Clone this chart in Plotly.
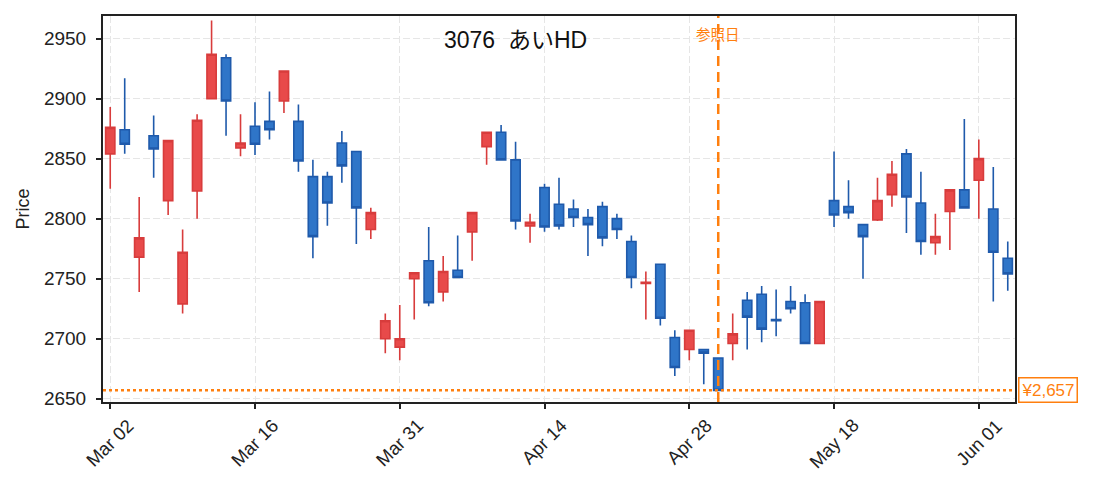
import plotly.graph_objects as go

# trading days (Tokyo), 2020-03-02 .. 2020-06-03
dates = [
    "2020-03-02", "2020-03-03", "2020-03-04", "2020-03-05", "2020-03-06",
    "2020-03-09", "2020-03-10", "2020-03-11", "2020-03-12", "2020-03-13",
    "2020-03-16", "2020-03-17", "2020-03-18", "2020-03-19", "2020-03-23",
    "2020-03-24", "2020-03-25", "2020-03-26", "2020-03-27", "2020-03-30",
    "2020-03-31", "2020-04-01", "2020-04-02", "2020-04-03", "2020-04-06",
    "2020-04-07", "2020-04-08", "2020-04-09", "2020-04-10", "2020-04-13",
    "2020-04-14", "2020-04-15", "2020-04-16", "2020-04-17", "2020-04-20",
    "2020-04-21", "2020-04-22", "2020-04-23", "2020-04-24", "2020-04-27",
    "2020-04-28", "2020-04-30", "2020-05-01", "2020-05-07", "2020-05-08",
    "2020-05-11", "2020-05-12", "2020-05-13", "2020-05-14", "2020-05-15",
    "2020-05-18", "2020-05-19", "2020-05-20", "2020-05-21", "2020-05-22",
    "2020-05-25", "2020-05-26", "2020-05-27", "2020-05-28", "2020-05-29",
    "2020-06-01", "2020-06-02", "2020-06-03",
]
opens = [2854, 2874, 2768, 2869, 2815, 2729, 2823, 2900, 2934, 2859,
         2877, 2881, 2898, 2881, 2835, 2835, 2863, 2856, 2791, 2700,
         2693, 2750, 2765, 2739, 2757, 2789, 2860, 2872, 2849, 2794,
         2826, 2812, 2808, 2801, 2810, 2800, 2781, 2746, 2762, 2701,
         2691, 2691, 2684, 2696, 2732, 2737, 2716, 2731, 2730, 2696,
         2815, 2810, 2795, 2799, 2820, 2854, 2813, 2780, 2806, 2824,
         2832, 2808, 2767]
highs = [2893, 2917, 2818, 2886, 2865, 2791, 2887, 2965, 2937, 2887,
         2897, 2906, 2923, 2895, 2849, 2839, 2873, 2856, 2809, 2721,
         2728, 2755, 2793, 2769, 2786, 2805, 2872, 2878, 2864, 2804,
         2829, 2834, 2816, 2808, 2814, 2804, 2786, 2756, 2762, 2707,
         2707, 2691, 2684, 2721, 2739, 2744, 2741, 2744, 2737, 2731,
         2856, 2832, 2795, 2834, 2848, 2858, 2839, 2804, 2824, 2883,
         2866, 2843, 2781]
lows = [2825, 2854, 2739, 2834, 2803, 2721, 2800, 2900, 2869, 2852,
        2853, 2866, 2888, 2839, 2767, 2794, 2830, 2779, 2783, 2688,
        2682, 2716, 2727, 2731, 2751, 2765, 2845, 2849, 2791, 2780,
        2789, 2791, 2793, 2769, 2777, 2783, 2742, 2716, 2711, 2669,
        2682, 2662, 2657, 2682, 2691, 2697, 2702, 2721, 2696, 2696,
        2793, 2800, 2750, 2798, 2810, 2788, 2770, 2770, 2774, 2809,
        2800, 2731, 2740]
closes = [2876, 2862, 2784, 2858, 2865, 2772, 2882, 2937, 2898, 2863,
          2862, 2874, 2923, 2848, 2785, 2813, 2844, 2809, 2805, 2715,
          2700, 2755, 2730, 2756, 2751, 2805, 2872, 2849, 2798, 2797,
          2793, 2794, 2801, 2795, 2784, 2791, 2751, 2747, 2717, 2676,
          2707, 2688, 2657, 2704, 2718, 2708, 2715, 2725, 2696, 2731,
          2803, 2805, 2785, 2815, 2837, 2818, 2781, 2785, 2824, 2809,
          2850, 2772, 2754]

code = "3076"
name = "あいHD"
ref_date = "2020-05-01"
ref_price = 2657
y_ticks = [2650, 2700, 2750, 2800, 2850, 2900, 2950]

tick_vals = dates[::10]
month_abbr = ["Jan", "Feb", "Mar", "Apr", "May", "Jun", "Jul", "Aug", "Sep", "Oct", "Nov", "Dec"]
tick_text = [month_abbr[int(d[5:7]) - 1] + " " + d[8:10] for d in tick_vals]

orange = "#ff7f0e"
ink = "#222222"
grid = "#e6e6e6"
font = "Liberation Sans, Noto Sans CJK JP, sans-serif"

fig = go.Figure()
fig.add_trace(go.Candlestick(
    x=dates, open=opens, high=highs, low=lows, close=closes,
    increasing=dict(line=dict(color="#d83c3c", width=1.6), fillcolor="#e84a4a"),
    decreasing=dict(line=dict(color="#1f5aab", width=1.6), fillcolor="#2f75c8"),
    whiskerwidth=0,
    showlegend=False,
))

# reference date / price markers
fig.add_shape(type="line", xref="x", yref="paper", x0=ref_date, x1=ref_date, y0=0, y1=1,
              line=dict(color=orange, width=2.5, dash="10px,6px"))
fig.add_shape(type="line", xref="paper", yref="y", x0=0, x1=1, y0=ref_price, y1=ref_price,
              line=dict(color=orange, width=2.5, dash="3px,3px"))
fig.add_annotation(x=ref_date, y=0.95, xref="x", yref="paper", text="参照日",
                   showarrow=False, font=dict(color=orange, size=14.5, family=font),
                   xanchor="center", yanchor="middle")
fig.add_annotation(x=1.003, y=ref_price, xref="paper", yref="y", text="¥{:,}".format(ref_price),
                   showarrow=False, font=dict(color=orange, size=17, family=font),
                   xanchor="left", yanchor="middle", bgcolor="white",
                   bordercolor=orange, borderwidth=1.5, borderpad=2)
fig.add_annotation(x=0.452, y=0.937, xref="paper", yref="paper",
                   text=code + " \u00a0" + name,
                   showarrow=False, font=dict(color="#111111", size=23, family=font),
                   xanchor="center", yanchor="middle")

# rotated date labels centred under their ticks
for d, t in zip(tick_vals, tick_text):
    fig.add_annotation(x=d, y=0, xref="x", yref="paper", text=t, textangle=-45,
                       showarrow=False, xanchor="center", yanchor="top", yshift=-10,
                       font=dict(color=ink, size=18.5, family=font))

fig.update_layout(
    width=1093, height=491,
    margin=dict(l=95, r=86, t=6, b=97),
    plot_bgcolor="white", paper_bgcolor="white",
    font=dict(family=font, size=18, color=ink),
    boxgap=0.2, boxgroupgap=0.2,
    xaxis=dict(
        type="category", rangeslider=dict(visible=False),
        range=[-0.5, len(dates) - 0.5],
        tickmode="array", tickvals=tick_vals, showticklabels=False,
        showgrid=True, gridcolor=grid, griddash="7px,3px", gridwidth=1.2,
        showline=True, linecolor=ink, linewidth=2, mirror=True,
        ticks="outside", ticklen=5, tickwidth=2, tickcolor=ink,
    ),
    yaxis=dict(
        title=dict(text="Price", font=dict(size=18), standoff=10),
        range=[2647.3, 2968.8],
        tickmode="array", tickvals=y_ticks,
        showgrid=True, gridcolor=grid, griddash="7px,3px", gridwidth=1.2,
        showline=True, linecolor=ink, linewidth=2, mirror=True,
        ticks="outside", ticklen=5, tickwidth=2, tickcolor=ink,
        ticklabelstandoff=6,
        tickfont=dict(size=19), zeroline=False,
    ),
)

fig.write_html("out.html")
